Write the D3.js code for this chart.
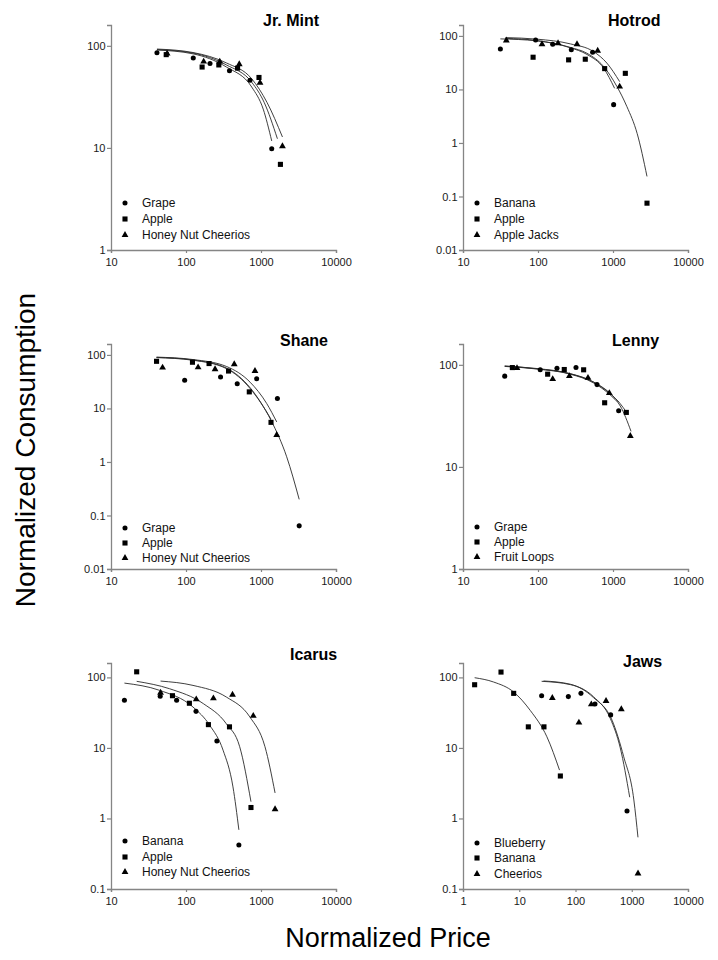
<!DOCTYPE html>
<head>
  <meta charset="utf-8">
  <script src="https://d3js.org/d3.v7.min.js"></script>
  <style>
    body { margin: 0; background: #fff; }
    svg { display: block; font-family: "Liberation Sans", Arial, sans-serif; }
  </style>
</head>

<body>
  <svg width="718" height="960"></svg>

  <script>
    // ---- data: [price, consumption] ----
    const jrMintGrape = [[41, 85.5], [125, 76], [209, 67], [380, 57], [713, 46], [1390, 9.8]];
    const jrMintApple = [[54.5, 82], [164, 62], [274, 65], [487, 60.5], [940, 49], [1815, 6.9]];
    const jrMintHNC = [[56, 84], [172, 70], [282, 70], [513, 66], [970, 43.5], [1932, 10.4]];
    const jrMintGrapeFit = [[41, 91], [124, 83.5], [346, 62], [752, 39.5], [1070, 24], [1390, 11.7]];
    const jrMintAppleFit = [[41, 92], [124, 85], [346, 65], [752, 44], [1100, 28], [1655, 12.3]];
    const jrMintHNCFit = [[41, 93], [124, 86], [346, 68], [752, 47.6], [1200, 28], [1932, 12.8]];

    const hotrodBanana = [[31.5, 57], [93, 84], [157, 70], [278, 55], [535, 49.5], [1020, 5.2]];
    const hotrodApple = [[86, 40], [256, 35.7], [427, 36.7], [774, 24.5], [1460, 20], [2840, 0.075]];
    const hotrodAppleJacks = [[37.8, 82], [113, 70], [185, 73], [331, 70], [625, 53], [1227, 11.3]];
    const hotrodBananaFit = [[31.5, 88], [95, 81], [270, 60], [450, 45], [750, 25], [1050, 10.5]];
    const hotrodAppleFit = [[37, 90], [97, 82], [270, 61], [450, 47.4], [750, 26.8], [1130, 11.3], [1530, 4.8], [2100, 1.5], [2840, 0.237]];
    const hotrodAppleJacksFit = [[37, 93], [97, 87], [270, 71], [550, 51], [830, 31], [1227, 14]];

    const shaneGrape = [[96, 33.6], [289, 38.8], [482, 29], [875, 36], [1655, 15.3], [3230, 0.064]];
    const shaneApple = [[40.5, 76], [122, 73], [203, 69], [369, 50], [698, 20.4], [1360, 5.5]];
    const shaneHNC = [[48.7, 58], [145, 58.5], [244, 54], [440, 67], [831, 50], [1620, 3.2]];
    const shaneGrapeFit = [[40.5, 89], [124, 79.5], [345, 55.6], [715, 23.6], [1360, 6.0], [2200, 1.25], [3230, 0.2]];
    const shaneAppleFit = [[40.5, 90], [124, 80.5], [345, 57], [715, 24.5], [1360, 6.3]];
    const shaneHNCFit = [[40.5, 91], [124, 82], [345, 61], [715, 31], [1190, 12.4], [1620, 5.6]];

    const lennyGrape = [[36, 77.5], [107, 89.4], [179, 92.8], [321, 94], [612, 64], [1190, 35.5]];
    const lennyApple = [[45.5, 94], [134.5, 81], [224, 90], [406, 89.4], [774, 42.5], [1506, 34.2]];
    const lennyFruitLoops = [[52.5, 93], [157, 72.4], [262, 77.5], [464, 74.6], [893, 52.8], [1702, 20.1]];
    const lennyGrapeFit = [[36, 97], [97, 92], [270, 82], [550, 68], [920, 52.5], [1190, 43]];
    const lennyAppleFit = [[36, 97.5], [97, 91.4], [270, 81.6], [550, 67.7], [920, 52], [1250, 41.6], [1506, 34.5]];
    const lennyFruitLoopsFit = [[36, 96.5], [97, 91], [270, 81], [550, 66.5], [920, 50.5], [1250, 39.5], [1740, 22.3]];

    const icarusBanana = [[15.1, 47.3], [45.3, 53.9], [75, 47.3], [136, 33], [258, 12.5], [507, 0.42]];
    const icarusApple = [[22, 120], [66, 55], [111, 43], [199, 21.4], [380, 19.9], [735, 1.43]];
    const icarusHNC = [[45.8, 60.7], [137, 48.9], [232, 50.5], [417, 56.9], [789, 28.5], [1540, 1.35]];
    const icarusBananaFit = [[15.1, 83], [44.5, 65.5], [124, 38], [207, 21], [312, 9.3], [423, 2.8], [507, 0.69]];
    const icarusAppleFit = [[22, 88], [60.5, 69], [170, 42.5], [345, 22], [520, 10.4], [735, 1.73]];
    const icarusHNCFit = [[45.8, 88.7], [124, 77], [345, 52.7], [710, 27.5], [1130, 10.4], [1540, 2.3]];

    const jawsBlueberry = [[25, 55], [74.6, 53.4], [125, 59.4], [222, 42], [422, 29.4], [824, 1.28]];
    const jawsBanana = [[1.61, 78.7], [4.74, 119], [7.96, 59.4], [14.5, 19.9], [27.5, 19.9], [53.8, 4.0]];
    const jawsCheerios = [[38.7, 51], [115, 22.9], [191, 41.5], [349, 46.4], [653, 35.3], [1292, 0.166]];
    const jawsBlueberryFit = [[25, 88], [81, 79], [210, 53], [417, 26], [625, 10], [920, 2.0]];
    const jawsBananaFit = [[1.61, 99], [3.5, 86], [7.96, 62], [15.7, 34], [31, 14.4], [52, 4.85]];
    const jawsCheeriosFit = [[27, 89], [81, 80], [210, 51.5], [447, 24.7], [720, 7.5], [1090, 1.83], [1290, 0.54]];

    const panelTitles = ['Jr. Mint', 'Hotrod', 'Shane', 'Lenny', 'Icarus', 'Jaws'];
    const panelLegends = [
      ['Grape', 'Apple', 'Honey Nut Cheerios'],
      ['Banana', 'Apple', 'Apple Jacks'],
      ['Grape', 'Apple', 'Honey Nut Cheerios'],
      ['Grape', 'Apple', 'Fruit Loops'],
      ['Banana', 'Apple', 'Honey Nut Cheerios'],
      ['Blueberry', 'Banana', 'Cheerios']
    ];
    const panelPoints = [
      [jrMintGrape, jrMintApple, jrMintHNC],
      [hotrodBanana, hotrodApple, hotrodAppleJacks],
      [shaneGrape, shaneApple, shaneHNC],
      [lennyGrape, lennyApple, lennyFruitLoops],
      [icarusBanana, icarusApple, icarusHNC],
      [jawsBlueberry, jawsBanana, jawsCheerios]
    ];
    const panelFits = [
      [jrMintGrapeFit, jrMintAppleFit, jrMintHNCFit],
      [hotrodBananaFit, hotrodAppleFit, hotrodAppleJacksFit],
      [shaneGrapeFit, shaneAppleFit, shaneHNCFit],
      [lennyGrapeFit, lennyAppleFit, lennyFruitLoopsFit],
      [icarusBananaFit, icarusAppleFit, icarusHNCFit],
      [jawsBlueberryFit, jawsBananaFit, jawsCheeriosFit]
    ];
    const xTicksPrice = [10, 100, 1000, 10000];
    const xTicksJaws = [1, 10, 100, 1000, 10000];
    const yTicksAll = [0.01, 0.1, 1, 10, 100];

    // ---- layout ----
    const yMax = 160;
    const layout = [
      {x0: 111, x1: 336, top: 25, bot: 250, xMin: 10, yMin: 1, tx: 263, ty: 26, leg: [-47, -31, -15]},
      {x0: 463, x1: 688, top: 25, bot: 250, xMin: 10, yMin: 0.01, tx: 608, ty: 26, leg: [-47, -31, -15]},
      {x0: 111, x1: 336, top: 344, bot: 569, xMin: 10, yMin: 0.01, tx: 280, ty: 346, leg: [-41, -26, -11]},
      {x0: 463, x1: 688, top: 344, bot: 569, xMin: 10, yMin: 1, tx: 612, ty: 346, leg: [-42, -27, -12]},
      {x0: 111, x1: 336, top: 663, bot: 889, xMin: 10, yMin: 0.1, tx: 290, ty: 660, leg: [-48, -32, -17]},
      {x0: 463, x1: 688, top: 663, bot: 889, xMin: 1, yMin: 0.1, tx: 623, ty: 667, leg: [-46, -31, -15]}
    ];
    const symbols = [d3.symbolCircle, d3.symbolSquare, d3.symbolTriangle];
    const symbolSizes = [20, 26, 20];
    const axisColor = '#858585';

    const svg = d3.select('svg');

    layout.forEach((p, i) => {
      const x = d3.scaleLog().domain([p.xMin, 10000]).range([p.x0, p.x1]);
      const y = d3.scaleLog().domain([p.yMin, yMax]).range([p.bot, p.top]);
      const g = svg.append('g');

      const xAxis = g.append('g')
        .attr('transform', `translate(0,${p.bot})`)
        .call(d3.axisBottom(x)
          .tickValues(p.xMin === 1 ? xTicksJaws : xTicksPrice)
          .tickFormat(d3.format('d'))
          .tickSizeOuter(0).tickSize(3).tickPadding(5));

      const yAxis = g.append('g')
        .attr('transform', `translate(${p.x0},0)`)
        .call(d3.axisLeft(y)
          .tickValues(yTicksAll.filter(v => v >= p.yMin))
          .tickFormat(d => String(d))
          .tickSizeOuter(0).tickSize(4).tickPadding(1.5));

      [xAxis, yAxis].forEach(a => {
        a.select('.domain').attr('stroke', axisColor).attr('stroke-width', 1.3);
        a.selectAll('.tick line').attr('stroke', axisColor).attr('stroke-width', 1.2);
        a.selectAll('.tick text').attr('fill', '#1a1a1a').style('font-size', '11px')
          .style('font-family', '"Liberation Sans", Arial, sans-serif');
      });

      const line = d3.line()
        .x(d => x(d[0]))
        .y(d => y(d[1]))
        .curve(d3.curveMonotoneX);

      g.selectAll('path.fit')
        .data(panelFits[i]).enter().append('path')
        .attr('class', 'fit')
        .attr('d', line)
        .attr('fill', 'none')
        .attr('stroke', '#2a2a2a')
        .attr('stroke-width', 0.9);

      panelPoints[i].forEach((series, s) => {
        g.selectAll(null)
          .data(series).enter().append('path')
          .attr('d', d3.symbol(symbols[s], symbolSizes[s]))
          .attr('transform', d => `translate(${x(d[0])},${y(d[1])})`)
          .attr('fill', '#000');
      });

      // legend
      panelLegends[i].forEach((label, s) => {
        const cy = p.bot + p.leg[s];
        g.append('path')
          .attr('d', d3.symbol(symbols[s], symbolSizes[s]))
          .attr('transform', `translate(${p.x0 + 14},${cy})`)
          .attr('fill', '#000');
        g.append('text')
          .attr('x', p.x0 + 31)
          .attr('y', cy)
          .attr('dy', '0.36em')
          .style('font-size', '12px')
          .attr('fill', '#111')
          .text(label);
      });

      g.append('text')
        .attr('x', p.tx)
        .attr('y', p.ty)
        .style('font-size', '16px')
        .style('font-weight', 'bold')
        .attr('fill', '#000')
        .text(panelTitles[i]);
    });

    svg.append('text')
      .attr('transform', 'translate(35,450) rotate(-90)')
      .attr('text-anchor', 'middle')
      .style('font-size', '28px')
      .attr('fill', '#000')
      .text('Normalized Consumption');

    svg.append('text')
      .attr('x', 388)
      .attr('y', 947)
      .attr('text-anchor', 'middle')
      .style('font-size', '27px')
      .attr('fill', '#000')
      .text('Normalized Price');
  </script>
</body>
